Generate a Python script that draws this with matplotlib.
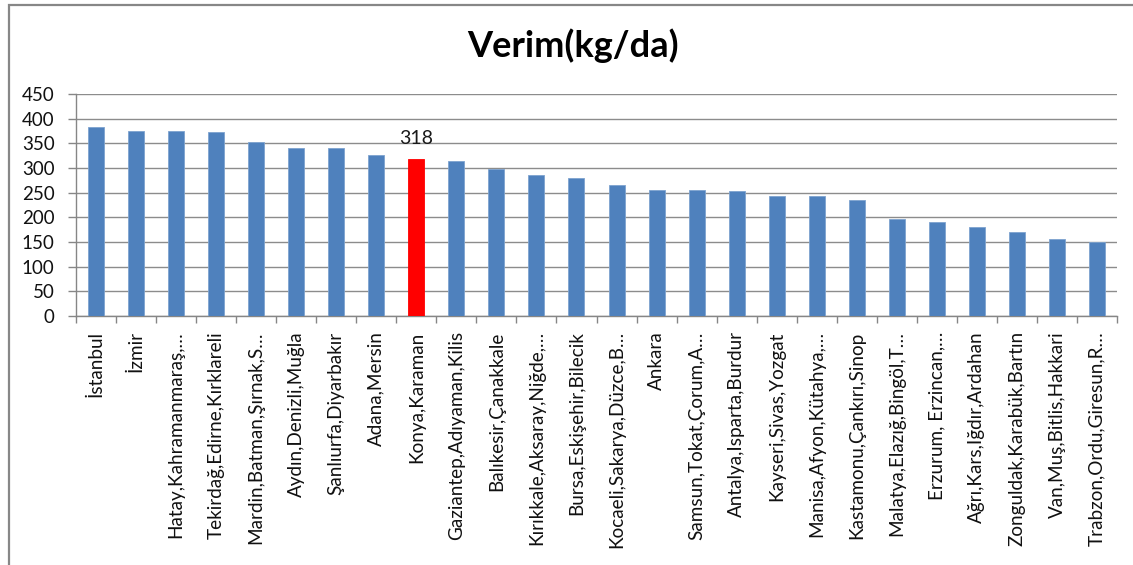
import matplotlib
matplotlib.use("Agg")
import matplotlib.pyplot as plt
from matplotlib.patches import Rectangle
import numpy as np

categories = [
    "İstanbul", "İzmir", "Hatay,Kahramanmaraş,…", "Tekirdağ,Edirne,Kırklareli",
    "Mardin,Batman,Şırnak,S…", "Aydın,Denizli,Muğla", "Şanlıurfa,Diyarbakır",
    "Adana,Mersin", "Konya,Karaman", "Gaziantep,Adıyaman,Kilis",
    "Balıkesir,Çanakkale", "Kırıkkale,Aksaray,Niğde,…", "Bursa,Eskişehir,Bilecik",
    "Kocaeli,Sakarya,Düzce,B…", "Ankara", "Samsun,Tokat,Çorum,A…",
    "Antalya,Isparta,Burdur", "Kayseri,Sivas,Yozgat", "Manisa,Afyon,Kütahya,…",
    "Kastamonu,Çankırı,Sinop", "Malatya,Elazığ,Bingöl,T…", "Erzurum, Erzincan,…",
    "Ağrı,Kars,Iğdır,Ardahan", "Zonguldak,Karabük,Bartın", "Van,Muş,Bitlis,Hakkari",
    "Trabzon,Ordu,Giresun,R…",
]
values = [384, 376, 374, 372, 352, 341, 341, 326, 318, 314, 298, 285, 279,
          266, 256, 256, 254, 244, 244, 236, 196, 190, 180, 171, 157, 150]
highlight_index = 8
highlight_label = "318"
title = "Verim(kg/da)"
y_ticks = [0, 50, 100, 150, 200, 250, 300, 350, 400, 450]

plt.rcParams['font.family'] = ['Lato', 'DejaVu Sans']

W, H = 1133, 565
fig = plt.figure(figsize=(W / 100, H / 100), dpi=100)
fig.patch.set_facecolor("white")

# outer chart frame (only left and top edges visible)
fig.patches.append(Rectangle((9 / W, -0.1), 1.2, (H - 5) / H + 0.1,
                             transform=fig.transFigure, fill=False,
                             edgecolor="#878787", linewidth=1.6))

ax = fig.add_axes([76 / W, (H - 316) / H, (1117 - 76) / W, (316 - 94) / H])

x = np.arange(len(categories))
colors = ["#4F81BD"] * len(values)
colors[highlight_index] = "#FF0000"
ax.bar(x, values, width=0.4, color=colors, edgecolor="#7EA3CF", linewidth=0.6, zorder=3)
ax.patches[highlight_index].set_edgecolor("#FF0000")

ax.set_xlim(-0.5, len(categories) - 0.5)
ax.set_ylim(0, 450)
ax.set_yticks(y_ticks)
ax.set_yticklabels([str(v) for v in y_ticks])
ax.yaxis.grid(True, color="#8C8C8C", linewidth=1.0, zorder=0)
ax.set_axisbelow(True)

ax.set_xticks(x)
ax.set_xticklabels(categories, rotation=90, va="top", ha="center")
ax.set_xticks(np.arange(len(categories) + 1) - 0.5, minor=True)
ax.tick_params(axis="x", which="major", length=0, pad=11, labelsize=13.6, colors="#111111")
ax.tick_params(axis="x", which="minor", length=5, width=1, color="#868686", direction="out")
ax.tick_params(axis="y", length=5.5, width=1, color="#868686", pad=10, labelsize=13.5,
               labelcolor="#111111")

for side in ["top", "right"]:
    ax.spines[side].set_visible(False)
for side in ["left", "bottom"]:
    ax.spines[side].set_color("#868686")
    ax.spines[side].set_linewidth(1.0)

ax.annotate(highlight_label, xy=(x[highlight_index], values[highlight_index]),
            xytext=(0, 9), textcoords="offset points", ha="center", va="bottom",
            fontsize=14, color="#1a1a1a")

fig.text(573 / W, 1 - 46 / H, title, ha="center", va="center",
         fontsize=26, fontweight="bold", color="black")

fig.savefig("out.png", dpi=100, facecolor="white")
